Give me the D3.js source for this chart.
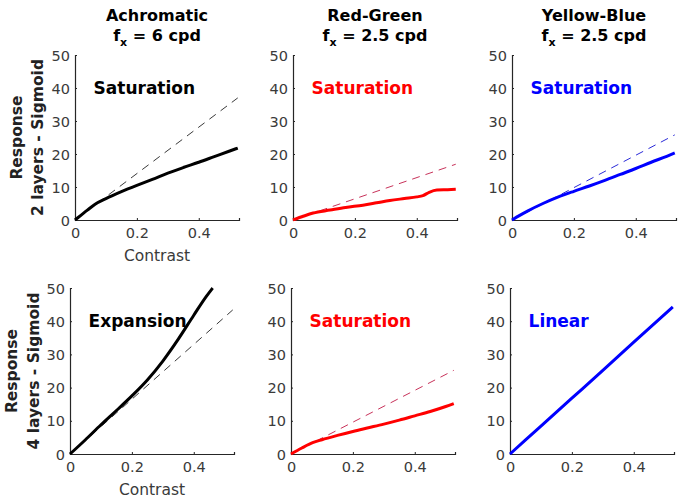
<!DOCTYPE html>
<html><head><meta charset="utf-8">
<script src="https://cdn.jsdelivr.net/npm/d3@7"></script>
<style>body{margin:0;background:#fff;} svg{display:block;font-family:"DejaVu Sans",sans-serif;}</style>
</head><body>
<svg id="c" width="682" height="499"></svg>
<script>
// ---- data ----
const titles = ["Achromatic", "Red-Green", "Yellow-Blue"];
const freqs = ["6", "2.5", "2.5"];
const rowLabels = ["2 layers - Sigmoid", "4 layers - Sigmoid"];
const annotations = ["Saturation", "Saturation", "Saturation", "Expansion", "Saturation", "Linear"];
const xTicks = [0, 0.2, 0.4];
const yTicks = [0, 10, 20, 30, 40, 50];

// solid response curves [contrast, response]
const achro2 = [[0,0],[0.02,1.5],[0.04,3],[0.065,4.8],[0.1,6.5],[0.15,8.6],[0.2,10.5],[0.25,12.3],[0.3,14.2],[0.35,15.9],[0.4,17.5],[0.45,19.2],[0.5,20.9],[0.526,21.8]];
const rg2 = [[0,0],[0.035,1.2],[0.065,2.1],[0.12,3.0],[0.17,3.8],[0.226,4.5],[0.27,5.2],[0.313,5.9],[0.36,6.5],[0.4,7.0],[0.42,7.4],[0.44,8.4],[0.465,9.1],[0.5,9.2],[0.526,9.3]];
const yb2 = [[0,0],[0.025,1.4],[0.05,2.7],[0.1,5],[0.15,7],[0.2,8.7],[0.25,10.3],[0.3,12],[0.35,13.8],[0.4,15.6],[0.45,17.5],[0.5,19.3],[0.526,20.3]];
const achro4 = [[0,0],[0.05,4.3],[0.1,8.8],[0.15,13.1],[0.2,17.5],[0.25,22.3],[0.3,28.0],[0.35,34.6],[0.4,41.8],[0.44,47.4],[0.461,50]];
const rg4 = [[0,0],[0.035,1.8],[0.07,3.4],[0.1,4.3],[0.15,5.6],[0.2,6.8],[0.25,7.9],[0.3,9],[0.35,10.2],[0.4,11.5],[0.45,12.8],[0.5,14.3],[0.526,15.2]];
const yb4 = [[0,0],[0.1,8.4],[0.2,16.8],[0.3,25.2],[0.4,33.7],[0.526,44.3]];
// dashed linear references [contrast, response] endpoints
const achro2Lin = [[0,0],[0.526,37]];
const rg2Lin = [[0,0],[0.526,16.9]];
const yb2Lin = [[0,0],[0.526,25.8]];
const achro4Lin = [[0,0],[0.526,43.4]];
const rg4Lin = [[0,0],[0.526,25.2]];
const yb4Lin = [[0,0],[0.526,44.3]];

const solids = [achro2, rg2, yb2, achro4, rg4, yb4];
const dashes = [achro2Lin, rg2Lin, yb2Lin, achro4Lin, rg4Lin, yb4Lin];
const colors = ["#000000", "#ff0000", "#0000ff"];
const dashColors = ["#3a3a3a", "#c8325a", "#2a2ad8"];

// ---- layout ----
const svg = d3.select("#c");
const left = [[75, 293, 512], [70, 291, 510]];
const tops = [55, 288];
const bottoms = [220, 454];
const W = 164;

for (let r = 0; r < 2; r++) {
  for (let c = 0; c < 3; c++) {
    const i = r * 3 + c;
    const x = d3.scaleLinear().domain([0, 0.53]).range([left[r][c], left[r][c] + W]);
    const y = d3.scaleLinear().domain([0, 50]).range([bottoms[r], tops[r]]);
    const g = svg.append("g");

    // axes
    const xa = g.append("g").attr("transform", `translate(0,${bottoms[r]})`)
      .call(d3.axisBottom(x).tickValues(xTicks).tickSize(-2).tickPadding(8).tickFormat(d => d === 0 ? "0" : d3.format(".1f")(d)));
    const ya = g.append("g").attr("transform", `translate(${left[r][c]},0)`)
      .call(d3.axisLeft(y).tickValues(yTicks).tickSize(-2).tickPadding(5));
    [xa, ya].forEach(a => {
      a.select(".domain").attr("stroke", "#262626").attr("stroke-width", 1.2);
      a.selectAll(".tick line").attr("stroke", "#262626");
      a.selectAll(".tick text").attr("fill", "#3a3a3a").attr("font-size", 14.5).attr("font-family", "DejaVu Sans");
    });
    ya.selectAll(".tick text").attr("dy", "0.35em");

    // annotation
    g.append("text").attr("x", x(0.06)).attr("y", y(40)).attr("dy", "0.35em")
      .attr("font-size", 17).attr("font-weight", "bold").attr("fill", colors[c])
      .text(annotations[i]);

    const line = d3.line().x(d => x(d[0])).y(d => y(d[1]));
    const curve = d3.line().x(d => x(d[0])).y(d => y(d[1])).curve(d3.curveMonotoneX);
    g.append("path").datum(dashes[i]).attr("d", line).attr("fill", "none")
      .attr("stroke", dashColors[c]).attr("stroke-width", 1).attr("stroke-dasharray", "8,6");
    g.append("path").datum(solids[i]).attr("d", curve).attr("fill", "none")
      .attr("stroke", colors[c]).attr("stroke-width", 3).attr("stroke-linejoin", "round");

    // titles
    if (r === 0) {
      const cx = left[r][c] + W / 2;
      svg.append("text").attr("x", cx).attr("y", 15).attr("dy", "0.35em").attr("text-anchor", "middle")
        .attr("font-size", 16).attr("font-weight", "bold").attr("fill", "#000").text(titles[c]);
      const t = svg.append("text").attr("x", cx).attr("y", 35).attr("dy", "0.35em").attr("text-anchor", "middle")
        .attr("font-size", 16).attr("font-weight", "bold").attr("fill", "#000");
      t.append("tspan").text("f");
      t.append("tspan").attr("font-size", 11).attr("dy", 5).text("x");
      t.append("tspan").attr("dy", -5).text(" = " + freqs[c] + " cpd");
    }
    if (c === 0) {
      const cx = left[r][c] + W / 2;
      svg.append("text").attr("x", cx).attr("y", bottoms[r] + 36).attr("dy", "0.35em").attr("text-anchor", "middle")
        .attr("font-size", 15.5).attr("fill", "#3a3a3a").text("Contrast");
      const cy = (tops[r] + bottoms[r]) / 2;
      const xs = r === 0 ? [17, 38] : [12, 34];
      svg.append("text").attr("transform", `translate(${xs[0]},${cy}) rotate(-90)`).attr("dy", "0.35em")
        .attr("text-anchor", "middle").attr("font-size", 15.5).attr("font-weight", "bold").attr("fill", "#222").text("Response");
      svg.append("text").attr("transform", `translate(${xs[1]},${cy}) rotate(-90)`).attr("dy", "0.35em")
        .attr("text-anchor", "middle").attr("font-size", 15.5).attr("font-weight", "bold").attr("fill", "#222").text(rowLabels[r]);
    }
  }
}
</script>
</body></html>
